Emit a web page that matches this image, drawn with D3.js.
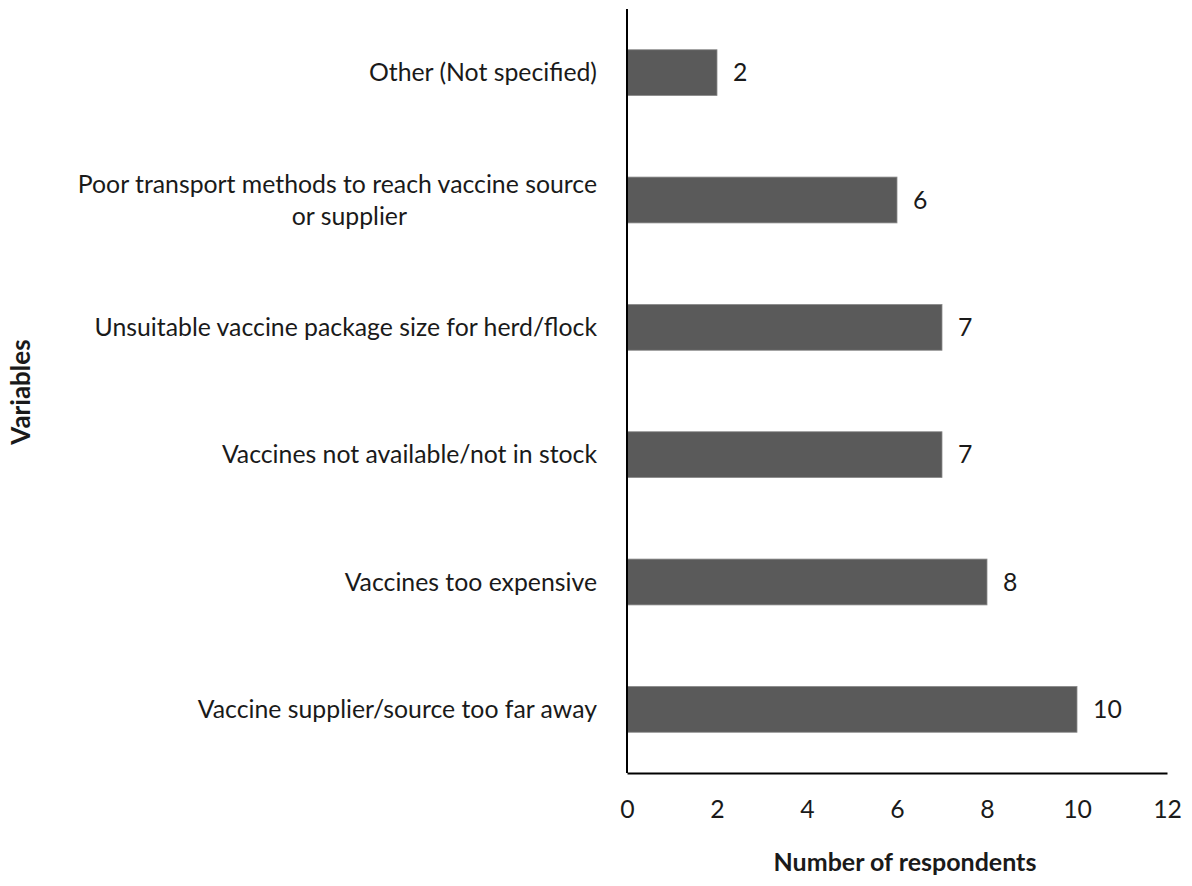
<!DOCTYPE html>
<html>
<head>
<meta charset="utf-8" />
<script src="https://cdn.jsdelivr.net/npm/d3@7"></script>
<title>vaccine barriers</title>
<style>
  body { margin: 0; background: #fff; }
  text { font-family: Lato, "Open Sans", "Liberation Sans", sans-serif; }
</style>
</head>
<body>
<script>
// data (top to bottom)
var categories = [
  "Other (Not specified)",
  "Poor transport methods to reach vaccine source|or supplier",
  "Unsuitable vaccine package size for herd/flock",
  "Vaccines not available/not in stock",
  "Vaccines too expensive",
  "Vaccine supplier/source too far away"
];
var counts = [2, 6, 7, 7, 8, 10];
var xTicks = [0, 2, 4, 6, 8, 10, 12];

var w = 1192, h = 886;
var plotL = 627, plotR = 1167, plotT = 9, plotB = 773;
var fs = 24.8;

var svg = d3.select("body").append("svg")
  .attr("width", w)
  .attr("height", h);

var x = d3.scaleLinear().domain([0, 12]).range([plotL, plotR]);
var y = d3.scaleBand().domain(categories).range([plotT, plotB]).paddingInner(0.64).paddingOuter(0.32);

var rows = categories.map(function(c, i) { return { cat: c, val: counts[i] }; });

// bars
svg.selectAll("rect.bar").data(rows).enter().append("rect")
  .attr("class", "bar")
  .attr("x", x(0))
  .attr("y", function(d) { return y(d.cat); })
  .attr("width", function(d) { return x(d.val) - x(0); })
  .attr("height", y.bandwidth())
  .attr("fill", "#5a5a5a")
  .attr("stroke", "#8a8a8a")
  .attr("stroke-width", 0.8);

// value labels
svg.selectAll("text.val").data(rows).enter().append("text")
  .attr("class", "val")
  .attr("x", function(d) { return x(d.val) + 16; })
  .attr("y", function(d) { return y(d.cat) + y.bandwidth() / 2; })
  .attr("dy", "0.35em")
  .attr("font-size", fs)
  .attr("fill", "#1a1a1a")
  .text(function(d) { return d.val; });

// category labels (| splits lines)
var labs = svg.selectAll("g.lab").data(rows).enter().append("g").attr("class", "lab");
labs.each(function(d) {
  var g = d3.select(this);
  var lines = d.cat.split("|");
  var cy = y(d.cat) + y.bandwidth() / 2;
  var lh = 32;
  if (lines.length == 1) {
    g.append("text")
      .attr("x", plotL - 30)
      .attr("y", cy)
      .attr("dy", "0.35em")
      .attr("text-anchor", "end")
      .attr("font-size", fs)
      .attr("fill", "#1a1a1a")
      .text(lines[0]);
  } else {
    var t0 = g.append("text")
      .attr("x", plotL - 30)
      .attr("y", cy - lh / 2)
      .attr("dy", "0.35em")
      .attr("text-anchor", "end")
      .attr("font-size", fs)
      .attr("fill", "#1a1a1a")
      .text(lines[0]);
    var wid = t0.node().getComputedTextLength();
    g.append("text")
      .attr("x", plotL - 30 - wid / 2 + 12)
      .attr("y", cy + lh / 2)
      .attr("dy", "0.35em")
      .attr("text-anchor", "middle")
      .attr("font-size", fs)
      .attr("fill", "#1a1a1a")
      .text(lines[1]);
  }
});

// x axis
var xAxis = d3.axisBottom(x).tickValues(xTicks).tickSize(0).tickPadding(27);
var gx = svg.append("g").attr("transform", "translate(0," + plotB + ")").call(xAxis);
gx.select(".domain").attr("stroke", "#000").attr("stroke-width", 2);
gx.selectAll("text").attr("font-size", fs).attr("fill", "#1a1a1a")
  .style("font-family", "Lato, 'Open Sans', 'Liberation Sans', sans-serif");

// y axis line
svg.append("line")
  .attr("x1", plotL).attr("x2", plotL)
  .attr("y1", plotT).attr("y2", plotB)
  .attr("stroke", "#000")
  .attr("stroke-width", 2);

// axis titles
svg.append("text")
  .attr("x", 905)
  .attr("y", 862)
  .attr("dy", "0.35em")
  .attr("text-anchor", "middle")
  .attr("font-size", 25)
  .attr("font-weight", "bold")
  .attr("fill", "#1a1a1a")
  .text("Number of respondents");

svg.append("text")
  .attr("transform", "translate(21,392) rotate(-90)")
  .attr("dy", "0.35em")
  .attr("text-anchor", "middle")
  .attr("font-size", 26)
  .attr("font-weight", "bold")
  .attr("fill", "#1a1a1a")
  .text("Variables");
</script>
</body>
</html>
